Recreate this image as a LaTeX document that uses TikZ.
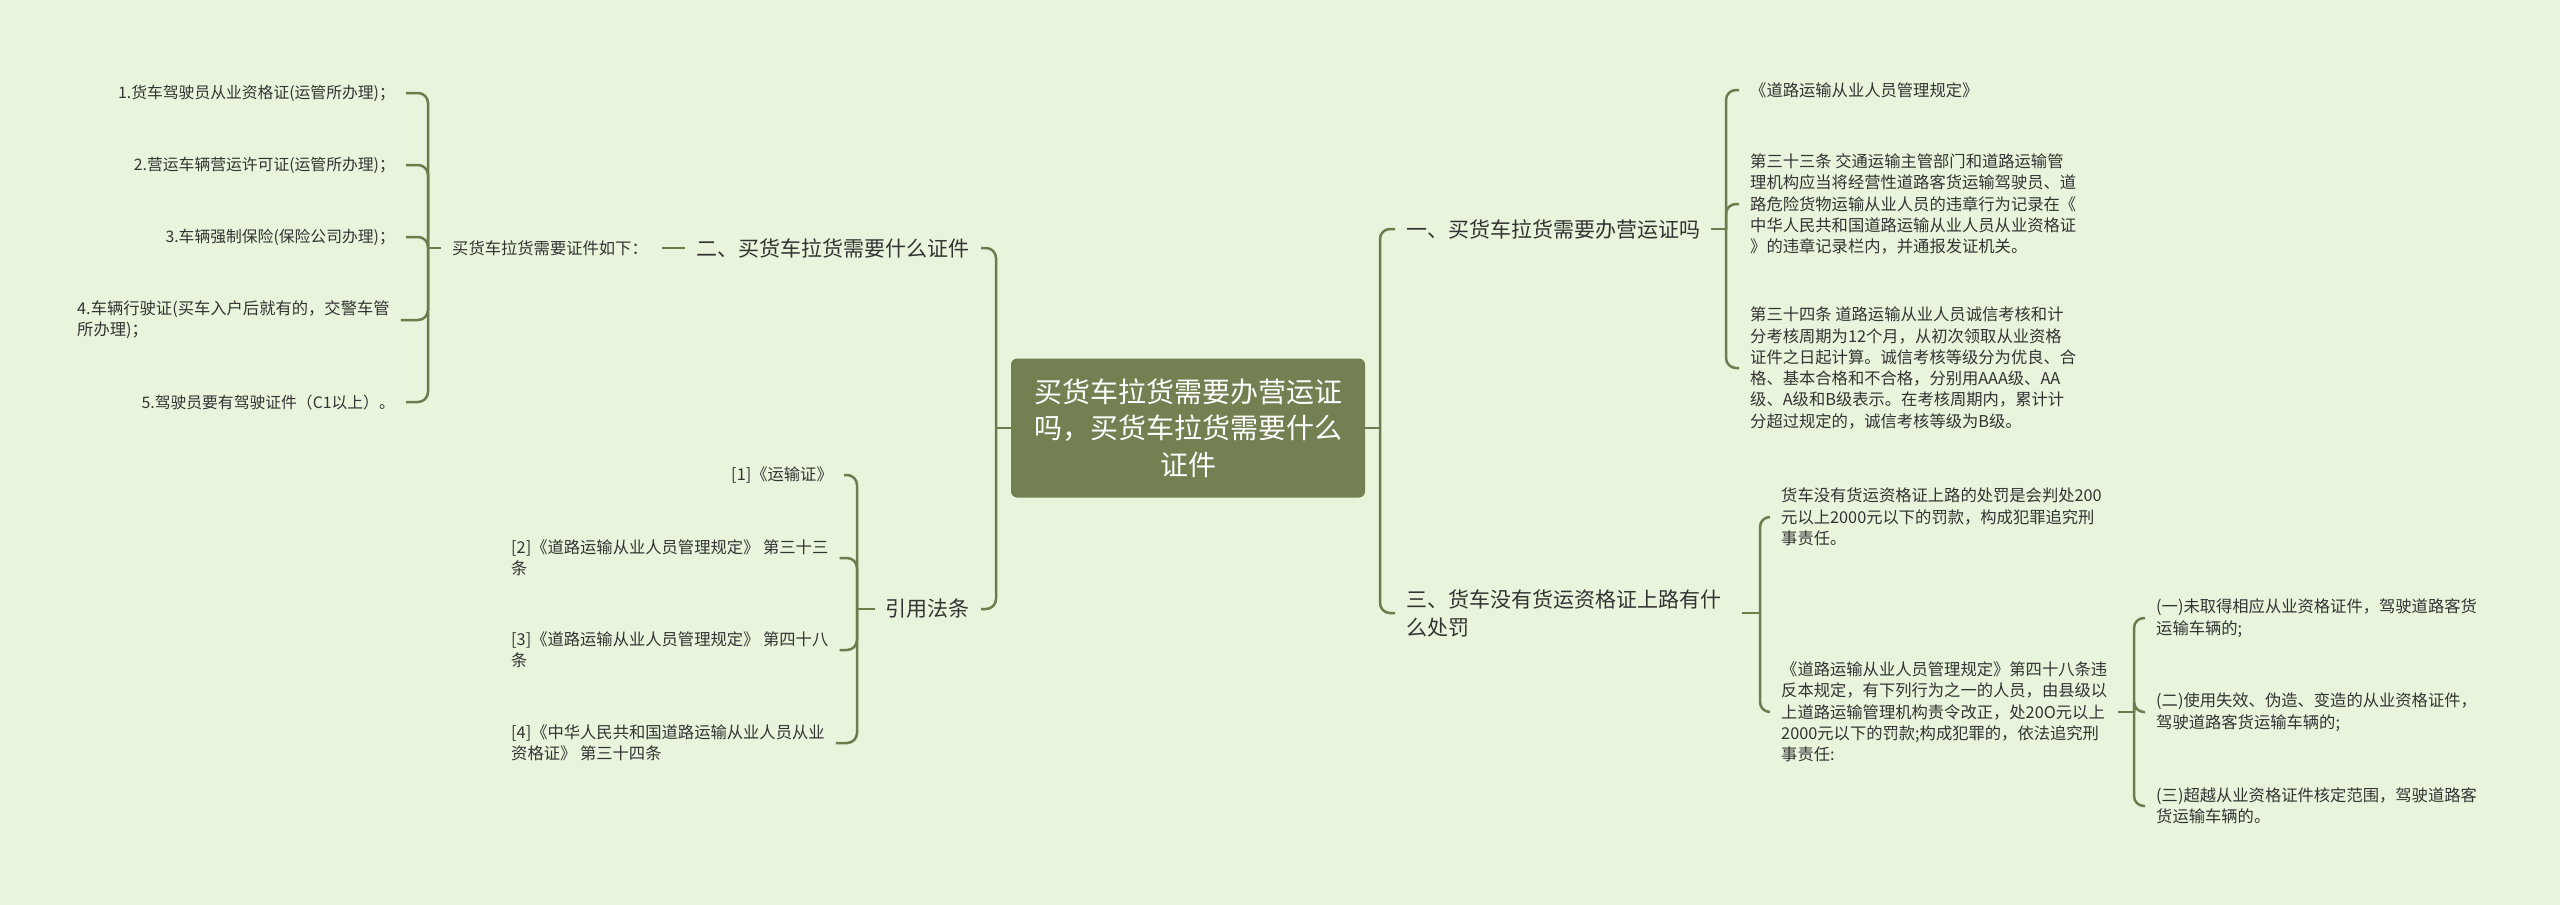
\documentclass[tikz,border=0pt]{standalone}
\usepackage{fontspec}
\setmainfont{Noto Sans CJK SC}
\definecolor{bgc}{HTML}{E8F5DC}
\definecolor{rootc}{HTML}{738052}
\definecolor{linec}{HTML}{6D7C4D}
\definecolor{txtc}{HTML}{333333}
\newcommand\leaffont{\fontsize{16.3}{21.3}\selectfont}
\newcommand\leafsmall{\fontsize{15.8}{21.3}\selectfont}
\newcommand\midfont{\fontsize{21}{28}\selectfont}
\newcommand\rootfont{\fontsize{28}{36.7}\selectfont}
\tikzset{
  txt/.style={inner xsep=11pt, inner ysep=2pt, text=txtc, font=\leaffont, align=left},
  midtxt/.style={txt, font=\midfont},
  rootbox/.style={fill=rootc, text=white, rounded corners=6pt, minimum width=354pt,
    minimum height=139pt, align=center, font=\rootfont, inner sep=0pt},
  conn/.style={draw=linec, line width=2.5pt, rounded corners=10pt},
}
\begin{document}
\begin{tikzpicture}[x=1pt,y=-1pt]
\fill[bgc] (0,0) rectangle (2560,905);
\useasboundingbox (0,0) rectangle (2560,905);

% root
\node[rootbox] (root) at (1188,428) {买货车拉货需要办营运证\\吗，买货车拉货需要什么\\证件};

% junctions
\coordinate (jL) at (996,428);
\coordinate (jR) at (1380,428);
\coordinate (jA) at (428,248);
\coordinate (jB) at (857,609);
\coordinate (jC) at (1726,229);
\coordinate (jD) at (1760,613);
\coordinate (jE) at (2134,712);

% level 1
\node[midtxt, anchor=east] (n2) at (981,248) {二、买货车拉货需要什么证件};
\node[midtxt, anchor=east] (n3) at (981,609) {引用法条};
\node[midtxt, anchor=west] (n1) at (1395,229) {一、买货车拉货需要办营运证吗};
\node[midtxt, anchor=west] (n4) at (1395,613) {三、货车没有货运资格证上路有什\\么处罚};

% left upper
\node[txt, anchor=west] (lab) at (441,248) {买货车拉货需要证件如下：};
\node[txt, anchor=east, align=right, font=\leafsmall] (a1) at (406,93) {1.货车驾驶员从业资格证(运管所办理)；};
\node[txt, anchor=east, align=right, font=\leafsmall] (a2) at (406,165) {2.营运车辆营运许可证(运管所办理)；};
\node[txt, anchor=east, align=right, font=\leafsmall] (a3) at (406,237) {3.车辆强制保险(保险公司办理)；};
\node[txt, anchor=west] (a4) at (66,320) {4.车辆行驶证(买车入户后就有的，交警车管\\所办理)；};
\node[txt, anchor=east, align=right, font=\leafsmall] (a5) at (406,402) {5.驾驶员要有驾驶证件（C1以上）。};

% left lower
\node[txt, anchor=east, align=right] (b1) at (844,475) {[1]《运输证》};
\node[txt, anchor=west] (b2) at (500,558) {[2]《道路运输从业人员管理规定》 第三十三\\条};
\node[txt, anchor=west] (b3) at (500,650) {[3]《道路运输从业人员管理规定》 第四十八\\条};
\node[txt, anchor=west] (b4) at (500,743) {[4]《中华人民共和国道路运输从业人员从业\\资格证》 第三十四条};

% right upper
\node[txt, anchor=west] (c1) at (1739,90) {《道路运输从业人员管理规定》};
\node[txt, anchor=west] (c2) at (1739,204) {第三十三条 交通运输主管部门和道路运输管\\理机构应当将经营性道路客货运输驾驶员、道\\路危险货物运输从业人员的违章行为记录在《\\中华人民共和国道路运输从业人员从业资格证\\》的违章记录栏内，并通报发证机关。};
\node[txt, anchor=west] (c3) at (1739,368) {第三十四条 道路运输从业人员诚信考核和计\\分考核周期为12个月，从初次领取从业资格\\证件之日起计算。诚信考核等级分为优良、合\\格、基本合格和不合格，分别用AAA级、AA\\级、A级和B级表示。在考核周期内，累计计\\分超过规定的，诚信考核等级为B级。};

% right lower
\node[txt, anchor=west] (d1) at (1770,517) {货车没有货运资格证上路的处罚是会判处200\\元以上2000元以下的罚款，构成犯罪追究刑\\事责任。};
\node[txt, anchor=west] (d2) at (1770,712) {《道路运输从业人员管理规定》第四十八条违\\反本规定，有下列行为之一的人员，由县级以\\上道路运输管理机构责令改正，处20O元以上\\2000元以下的罚款;构成犯罪的，依法追究刑\\事责任:};
\node[txt, anchor=west] (e1) at (2145,618) {(一)未取得相应从业资格证件，驾驶道路客货\\运输车辆的;};
\node[txt, anchor=west] (e2) at (2145,712) {(二)使用失效、伪造、变造的从业资格证件，\\驾驶道路客货运输车辆的;};
\node[txt, anchor=west] (e3) at (2145,806) {(三)超越从业资格证件核定范围，驾驶道路客\\货运输车辆的。};

% connectors
\draw[conn] (root.west) -- (jL);
\draw[conn] (jL) |- (n2.east);
\draw[conn] (jL) |- (n3.east);
\draw[conn] (root.east) -- (jR);
\draw[conn] (jR) |- (n1.west);
\draw[conn] (jR) |- (n4.west);

\draw[conn, shorten <=1pt, shorten >=3pt] (n2.west) -- (lab.east);
\draw[conn] (lab.west) -- (jA);
\foreach \c in {a1,a2,a3,a4,a5} \draw[conn] (jA) |- (\c.east);

\draw[conn] (n3.west) -- (jB);
\foreach \c in {b1,b2,b3,b4} \draw[conn] (jB) |- (\c.east);

\draw[conn] (n1.east) -- (jC);
\foreach \c in {c1,c2,c3} \draw[conn] (jC) |- (\c.west);

\draw[conn, shorten <=10pt] (n4.east) -- (jD);
\foreach \c in {d1,d2} \draw[conn] (jD) |- (\c.west);

\draw[conn] (d2.east) -- (jE);
\foreach \c in {e1,e2,e3} \draw[conn] (jE) |- (\c.west);
\end{tikzpicture}
\end{document}
